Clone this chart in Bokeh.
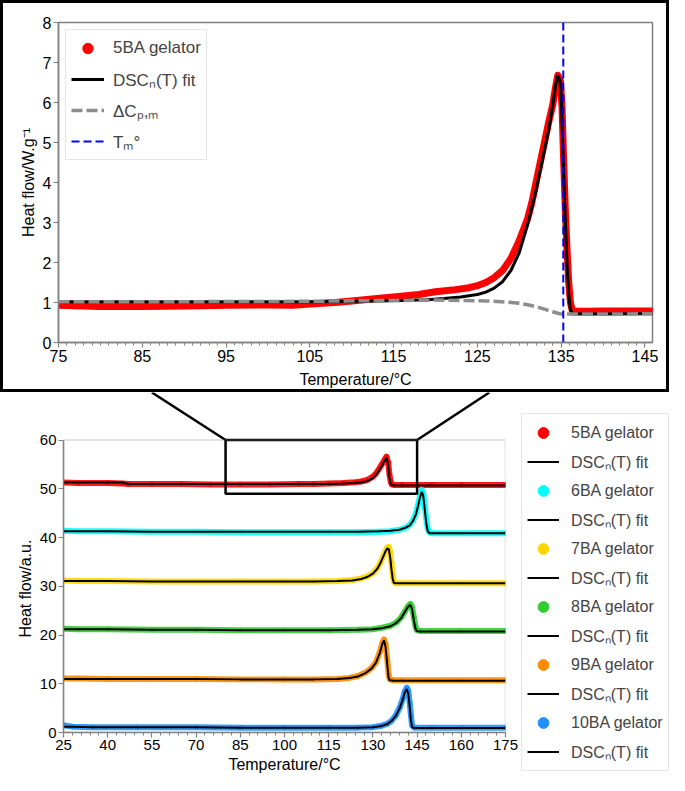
from bokeh.plotting import figure
from bokeh.models import Legend, LegendItem, FixedTicker, BoxAnnotation, Title
from bokeh.layouts import column, row
from bokeh.embed import file_html
from bokeh.resources import INLINE

FONT = "Liberation Sans"

# ---------------- top panel data (5BA gelator, W/g) ----------------
T_top = [75, 78, 80, 85, 90, 95, 100, 103, 105, 108,
         110, 113, 115, 118, 120, 122, 124, 125, 126, 127,
         128, 129, 130, 131, 131.5, 132, 132.5, 133, 133.5, 134,
         134.3, 134.6, 134.9, 135.1, 135.3, 135.5, 135.7, 135.9, 136.1, 136.3,
         136.5, 137, 138, 140, 142, 144, 146]
H_top = [0.93, 0.91, 0.90, 0.90, 0.91, 0.93, 0.94, 0.93, 0.96, 1.00,
         1.04, 1.10, 1.14, 1.20, 1.27, 1.31, 1.37, 1.42, 1.50, 1.62,
         1.80, 2.10, 2.55, 3.10, 3.50, 4.00, 4.50, 5.00, 5.50, 5.95,
         6.35, 6.68, 6.55, 5.90, 4.50, 3.30, 2.30, 1.50, 1.00, 0.82,
         0.79, 0.78, 0.78, 0.79, 0.79, 0.79, 0.79]

T_fit = [75, 90, 105, 110, 113, 116, 119, 121, 123, 125,
         126, 127, 128, 129, 130, 131, 132, 133, 133.5, 134,
         134.35, 134.6, 134.85, 135.0, 135.3, 135.5, 135.7, 135.9, 136.1, 136.3,
         136.5, 137, 140, 146]
H_fit = [1.02, 1.02, 1.02, 1.03, 1.04, 1.05, 1.07, 1.10, 1.14, 1.20,
         1.26, 1.36, 1.52, 1.80, 2.25, 2.95, 3.80, 4.80, 5.30, 5.95,
         6.45, 6.68, 6.55, 6.20, 4.20, 3.00, 1.95, 1.20, 0.82, 0.72,
         0.71, 0.71, 0.71, 0.72]

T_cp = [75, 90, 105, 115, 120, 123, 126, 128.5, 130, 131.3,
        132.3, 133.2, 134, 134.8, 135.5, 137, 140, 146]
H_cp = [1.02, 1.02, 1.03, 1.05, 1.06, 1.05, 1.04, 1.01, 0.98, 0.93,
        0.88, 0.82, 0.77, 0.72, 0.71, 0.71, 0.71, 0.72]

TM = 135.25

TOP_XTICKS = [75, 85, 95, 105, 115, 125, 135, 145]
TOP_YTICKS = [0, 1, 2, 3, 4, 5, 6, 7, 8]

# ---------------- bottom panel data (a.u.) ----------------
SERIES = ["5BA gelator", "6BA gelator", "7BA gelator", "8BA gelator", "9BA gelator", "10BA gelator"]
COLORS = ["#ff0000", "#00ffff", "#ffd700", "#32cd32", "#ff8c00", "#1e90ff"]

T5b = [25, 30, 40, 45, 47, 55, 65, 75, 85, 95,
       105, 110, 115, 120, 124, 126, 128, 130, 131, 132,
       133, 134, 134.6, 135.2, 135.6, 136.0, 136.4, 137, 140, 150,
       160, 175]
H5b = [51.3, 51.2, 51.2, 51.1, 51.0, 51.0, 51.0, 50.9, 50.9, 50.9,
       51.0, 51.0, 51.1, 51.2, 51.35, 51.5, 51.8, 52.5, 53.1, 54.0,
       55.0, 56.0, 56.6, 55.4, 53.0, 51.6, 50.9, 50.8, 50.8, 50.8,
       50.8, 50.8]
F5b = [51.3, 51.3, 51.3, 51.3, 51.0, 51.0, 51.0, 51.0, 51.0, 51.0,
       51.0, 51.0, 51.0, 51.1, 51.2, 51.3, 51.55, 52.2, 52.8, 53.7,
       54.7, 55.8, 56.4, 55.0, 52.4, 51.1, 50.75, 50.7, 50.7, 50.7,
       50.7, 50.7]

T6 = [25, 30, 40, 55, 70, 85, 100, 115, 125, 132,
      136, 139, 141, 142.5, 143.5, 144.5, 145.3, 146.0, 146.6, 147.1,
      147.6, 148.1, 148.6, 149.2, 150, 160, 175]
H6 = [41.4, 41.3, 41.3, 41.2, 41.2, 41.1, 41.1, 41.1, 41.1, 41.2,
      41.3, 41.6, 42.0, 42.6, 43.4, 44.8, 46.6, 48.6, 49.8, 49.0,
      46.5, 43.8, 41.8, 41.0, 40.9, 40.9, 40.9]
F6 = [41.3, 41.3, 41.3, 41.2, 41.2, 41.2, 41.2, 41.2, 41.2, 41.3,
      41.4, 41.6, 42.0, 42.5, 43.3, 44.6, 46.4, 48.3, 49.4, 48.5,
      45.8, 43.0, 41.3, 40.9, 40.9, 40.9, 40.9]

T7 = [25, 30, 40, 55, 70, 85, 100, 110, 118, 123,
      126, 128, 130, 131.5, 132.5, 133.5, 134.3, 134.9, 135.4, 135.9,
      136.3, 136.7, 137.1, 137.6, 140, 150, 160, 175]
H7 = [31.2, 31.1, 31.1, 31.0, 31.0, 31.0, 31.0, 31.0, 31.1, 31.3,
      31.6, 32.0, 32.7, 33.7, 34.8, 36.2, 37.3, 38.0, 38.1, 37.0,
      34.8, 32.5, 31.0, 30.6, 30.6, 30.6, 30.6, 30.6]
F7 = [31.1, 31.1, 31.1, 31.0, 31.0, 31.0, 31.0, 31.0, 31.1, 31.2,
      31.5, 31.9, 32.6, 33.6, 34.7, 36.1, 37.2, 37.8, 37.6, 35.8,
      33.5, 31.6, 30.7, 30.6, 30.6, 30.6, 30.6, 30.6]

T8 = [25, 30, 40, 55, 70, 85, 100, 115, 125, 130,
      133, 136, 138, 139.6, 140.8, 141.9, 142.7, 143.3, 143.9, 144.4,
      144.9, 146, 150, 160, 175]
H8 = [21.3, 21.2, 21.2, 21.1, 21.1, 21.0, 21.0, 21.0, 21.1, 21.2,
      21.5, 21.9, 22.6, 23.6, 24.8, 25.9, 26.4, 25.7, 23.6, 21.9,
      21.0, 20.8, 20.8, 20.8, 20.8]
F8 = [21.2, 21.2, 21.2, 21.1, 21.1, 21.0, 21.0, 21.0, 21.1, 21.2,
      21.4, 21.8, 22.5, 23.5, 24.7, 25.8, 26.2, 25.3, 23.0, 21.4,
      20.8, 20.7, 20.7, 20.7, 20.7]

T9 = [25, 30, 40, 55, 70, 85, 100, 110, 118, 122,
      125, 127.5, 129.5, 131, 132.4, 133.2, 133.8, 134.3, 134.9, 135.3,
      135.7, 137, 140, 150, 160, 175]
H9 = [11.1, 11.1, 11.0, 11.0, 11.0, 10.9, 10.9, 10.9, 11.0, 11.2,
      11.6, 12.3, 13.2, 14.4, 16.6, 18.4, 19.1, 18.2, 14.8, 12.0,
      10.9, 10.7, 10.7, 10.7, 10.7, 10.7]
F9 = [11.0, 11.0, 11.0, 11.0, 11.0, 10.9, 10.9, 10.9, 11.0, 11.2,
      11.5, 12.2, 13.1, 14.3, 16.4, 18.2, 18.9, 17.6, 13.8, 11.3,
      10.7, 10.6, 10.6, 10.6, 10.6, 10.6]

T10 = [25, 28, 35, 50, 70, 85, 100, 115, 125, 130,
       133, 135, 136.3, 137.8, 139.1, 140.1, 140.8, 141.5, 142.0, 142.5,
       142.9, 143.3, 144, 150, 160, 175]
H10 = [1.5, 1.2, 1.1, 1.1, 1.1, 1.0, 1.0, 1.0, 1.0, 1.1,
       1.4, 1.8, 2.4, 3.5, 5.1, 6.8, 8.4, 9.2, 8.6, 6.1,
       3.5, 1.4, 1.0, 1.0, 1.0, 1.0]
F10 = [1.2, 1.2, 1.1, 1.1, 1.1, 1.0, 1.0, 1.0, 1.0, 1.1,
       1.35, 1.75, 2.35, 3.4, 5.0, 6.7, 8.2, 8.9, 8.0, 5.2,
       2.6, 1.1, 0.9, 0.9, 0.9, 0.9]

BOT_T = [T5b, T6, T7, T8, T9, T10]
BOT_H = [H5b, H6, H7, H8, H9, H10]
BOT_F = [F5b, F6, F7, F8, F9, F10]

BOT_XTICKS = [25, 40, 55, 70, 85, 100, 115, 130, 145, 160, 175]
BOT_YTICKS = [0, 10, 20, 30, 40, 50, 60]
BOT_YMAX = 69.76          # range top (room above 60 for the zoom connectors)

ZOOM_T = [80, 145]        # zoomed window in the bottom panel
ZOOM_H = [49, 60]
LINK_T = [55, 169.5]      # where the connector lines meet the inset box

FIT_LABEL = "DSC\u2099(T) fit"
AXIS_GRAY = "#808080"


def style_axes(p, tick_size, xlabel_standoff):
    for ax in (p.xaxis[0], p.yaxis[0]):
        ax.axis_line_color = AXIS_GRAY
        ax.axis_line_width = 1.5
        ax.major_tick_line_color = AXIS_GRAY
        ax.minor_tick_line_color = AXIS_GRAY
        ax.major_tick_line_width = 1.2
        ax.minor_tick_line_width = 1
        ax.major_tick_in = 0
        ax.major_tick_out = 5
        ax.minor_tick_in = 0
        ax.minor_tick_out = 3
        ax.major_label_text_font = FONT
        ax.major_label_text_font_size = tick_size
        ax.major_label_text_color = "black"
        ax.major_label_standoff = 2
        ax.axis_label_text_font = FONT
        ax.axis_label_text_font_size = "16px"
        ax.axis_label_text_font_style = "normal"
        ax.axis_label_text_color = "black"
        ax.axis_label_standoff = 3
    p.xaxis[0].axis_label_standoff = xlabel_standoff
    p.grid.visible = False


# ---------------- top figure ----------------
top = figure(width=669, height=392, x_range=(75, 145.9), y_range=(0, 8),
             output_backend="svg", toolbar_location=None,
             min_border_left=55, min_border_right=20, min_border_top=19, min_border_bottom=53)
top.styles = {"border": "3px solid black"}
top.outline_line_color = AXIS_GRAY
top.outline_line_width = 1.5
style_axes(top, "16px", 6)
top.xaxis.ticker = FixedTicker(ticks=TOP_XTICKS, minor_ticks=list(range(75, 146)))
top.yaxis.ticker = FixedTicker(ticks=TOP_YTICKS, minor_ticks=[])
top.xaxis.axis_label = "Temperature/\u00b0C"
top.yaxis.axis_label = "Heat flow/W.g\u207b\u00b9"

top.line(T_top, H_top, line_color="#ff0000", line_width=7, line_join="round", line_cap="round")
r_sc = top.scatter(T_top, H_top, size=5, fill_color="#ff0000", line_color="#ff0000")
r_fit = top.line(T_fit, H_fit, line_color="black", line_width=3)
r_cp = top.line(T_cp, H_cp, line_color="#8c8c8c", line_width=3.5, line_dash="11 4")
r_tm = top.segment(x0=[TM], y0=[TOP_YTICKS[0]], x1=[TM], y1=[TOP_YTICKS[-1]],
                   line_color="#0000ff", line_width=2, line_dash="8 4")

leg_top = Legend(items=[
    LegendItem(label="5BA gelator", renderers=[r_sc]),
    LegendItem(label=FIT_LABEL, renderers=[r_fit]),
    LegendItem(label="\u0394C\u209a,\u2098", renderers=[r_cp]),
    LegendItem(label="T\u2098\u00b0", renderers=[r_tm]),
], location="top_left", margin=7, padding=5, spacing=5,
    glyph_height=26, label_height=26, glyph_width=33, label_standoff=9,
    label_text_font=FONT, label_text_font_size="17px",
    border_line_color="#cccccc", border_line_width=1,
    background_fill_color="white", background_fill_alpha=0.85)
top.add_layout(leg_top)

# ---------------- bottom figure ----------------
bot = figure(width=518, height=383, x_range=(25, 175), y_range=(0, BOT_YMAX),
             output_backend="svg", toolbar_location=None,
             min_border_left=63, min_border_right=13, min_border_top=0, min_border_bottom=40)
bot.outline_line_color = None
style_axes(bot, "15px", 3)
bot.xaxis.ticker = FixedTicker(ticks=BOT_XTICKS, minor_ticks=list(range(25, 176, 3)))
bot.yaxis.ticker = FixedTicker(ticks=BOT_YTICKS, minor_ticks=[])
bot.yaxis.bounds = (BOT_YTICKS[0], BOT_YTICKS[-1])
bot.xaxis.axis_label = "Temperature/\u00b0C"
bot.add_layout(Title(text="Heat flow/a.u.", align="left", offset=95, vertical_align="middle",
                     standoff=4, text_font=FONT, text_font_size="16px",
                     text_font_style="normal", text_color="black"), "left")

bot.add_layout(BoxAnnotation(left=25, right=175, bottom=BOT_YTICKS[0], top=BOT_YTICKS[-1],
                             fill_color=None, line_color=AXIS_GRAY, line_width=1.5))

# legend lives in its own narrow figure to the right of the bottom panel
legfig = figure(width=151, height=383, x_range=(0, 1), y_range=(0, 1),
                output_backend="svg", toolbar_location=None,
                x_axis_location=None, y_axis_location=None,
                min_border_left=0, min_border_right=0, min_border_top=0, min_border_bottom=0)
legfig.outline_line_color = None
legfig.grid.visible = False

items = []
for name, col, T, H, F in zip(SERIES, COLORS, BOT_T, BOT_H, BOT_F):
    bot.line(T, H, line_color=col, line_width=6, line_alpha=0.9, line_join="round", line_cap="round")
    bot.scatter(T, H, size=4, fill_color=col, line_color=col)
    bot.line(T, F, line_color="black", line_width=2)
    # same series re-drawn (outside the visible range) so the legend can show its glyphs
    sc = legfig.scatter(T, H, size=4, fill_color=col, line_color=col)
    fl = legfig.line(T, F, line_color="black", line_width=2)
    items.append(LegendItem(label=name, renderers=[sc]))
    items.append(LegendItem(label=FIT_LABEL, renderers=[fl]))

bot.quad(left=[ZOOM_T[0]], right=[ZOOM_T[1]], bottom=[ZOOM_H[0]], top=[ZOOM_H[1]],
         fill_color=None, line_color="black", line_width=2.5)
bot.segment(x0=ZOOM_T, y0=[ZOOM_H[1], ZOOM_H[1]], x1=LINK_T, y1=[BOT_YMAX, BOT_YMAX],
            line_color="black", line_width=2.5)

leg_bot = Legend(items=items, location=(3, 4), margin=0, padding=5, spacing=2,
                 glyph_height=27, label_height=27, glyph_width=32, label_standoff=12,
                 label_text_font=FONT, label_text_font_size="16px",
                 border_line_color="#cccccc", border_line_width=1,
                 background_fill_color="white", background_fill_alpha=1.0)
legfig.add_layout(leg_bot)

for f in (top, bot, legfig):
    try:
        f.frame_align = False
    except AttributeError:
        pass

layout = column(top, row(bot, legfig, spacing=0), spacing=0)
open("out.html", "w").write(file_html(layout, INLINE))
